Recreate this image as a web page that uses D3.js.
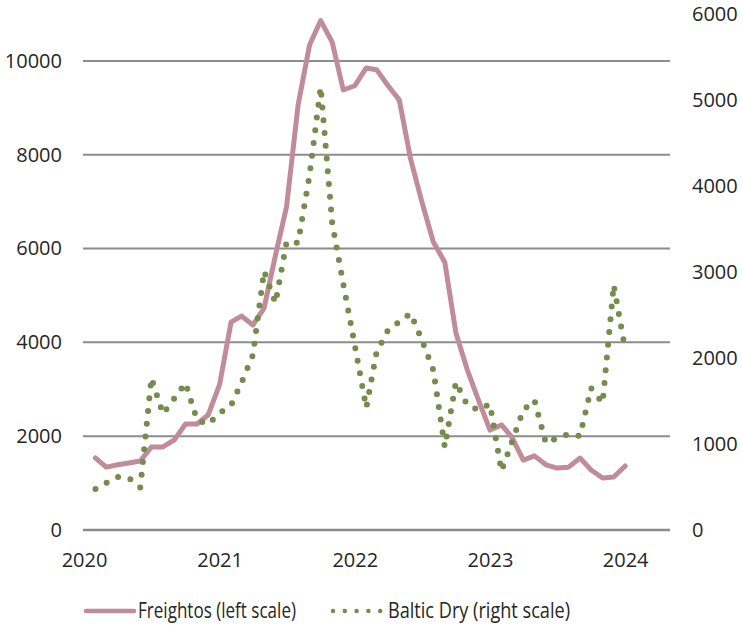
<!DOCTYPE html>
<html>
<head>
<meta charset="utf-8">
<script src="https://cdn.jsdelivr.net/npm/d3@7"></script>
<style>
  html, body { margin: 0; padding: 0; background: #ffffff; }
  svg { display: block; }
  text { font-family: "Open Sans", "Noto Sans", sans-serif; fill: #262626; }
</style>
</head>
<body>
<svg id="chart" width="742" height="630"></svg>
<script>
// Monthly observations, Jan 2020 – Dec 2023, each plotted at its month end
const monthEnds = d3.timeMonth.range(new Date(2020, 1, 1), new Date(2024, 1, 1));

// Freightos container index (left scale)
const freightos = [
  1535, 1340, 1390, 1430, 1470, 1770, 1770, 1920, 2260, 2260, 2450, 3100,
  4430, 4560, 4370, 4730, 5860, 6900, 9060, 10340, 10860, 10400, 9380, 9470,
  9850, 9810, 9470, 9170, 7900, 7000, 6140, 5710, 4200, 3410, 2770, 2130,
  2240, 1980, 1490, 1580, 1390, 1320, 1340, 1535, 1280, 1110, 1130, 1365
];

// Baltic Dry index (right scale)
const balticDry = [
  477, 547, 616, 605, 495, 1767, 1350, 1530, 1710, 1280, 1230, 1360,
  1450, 1710, 2035, 3010, 2640, 3350, 3340, 4130, 5150, 3570, 2860, 2150,
  1420, 2070, 2325, 2420, 2520, 2210, 1860, 965, 1720, 1450, 1395, 1465,
  686, 1020, 1395, 1510, 1010, 1070, 1115, 1093, 1650, 1477, 2850, 2100
];

const leftTicks = [0, 2000, 4000, 6000, 8000, 10000];
const rightTicks = [0, 1000, 2000, 3000, 4000, 5000, 6000];
const yearTicks = [2020, 2021, 2022, 2023, 2024];
const seriesNames = ["Freightos (left scale)", "Baltic Dry (right scale)"];

const colorFreightos = "#C08C9A";
const colorBaltic = "#748C4C";
const gridColor = "#8C8C8C";

const svg = d3.select("#chart");

const x = d3.scaleTime()
  .domain([new Date(2020, 0, 1), new Date(2024, 4, 1)])
  .range([84, 670]);
const yLeft = d3.scaleLinear().domain([0, 11000]).range([530, 14]);
const yRight = d3.scaleLinear().domain([0, 6000]).range([530, 14]);

// Horizontal gridlines on the left scale
svg.append("g")
  .selectAll("line")
  .data(leftTicks.filter(d => d > 0))
  .join("line")
  .attr("x1", 83).attr("x2", 670)
  .attr("y1", d => yLeft(d)).attr("y2", d => yLeft(d))
  .attr("stroke", gridColor)
  .attr("stroke-width", 2);

// Baseline
svg.append("line")
  .attr("x1", 83).attr("x2", 670)
  .attr("y1", yLeft(0)).attr("y2", yLeft(0))
  .attr("stroke", "#8A8A8A")
  .attr("stroke-width", 2.6);

const styleLabels = g => g.selectAll("text")
  .attr("font-size", 20).attr("fill", "#262626")
  .attr("font-family", "'Open Sans', sans-serif");

// Left axis labels
const leftAxis = d3.axisLeft(yLeft).tickValues(leftTicks).tickSize(0).tickPadding(0)
  .tickFormat(d3.format("d"));
svg.append("g")
  .attr("transform", "translate(62,0)")
  .call(leftAxis)
  .call(g => g.select(".domain").remove())
  .call(styleLabels);

// Right axis labels
const rightAxis = d3.axisRight(yRight).tickValues(rightTicks).tickSize(0).tickPadding(0)
  .tickFormat(d3.format("d"));
svg.append("g")
  .attr("transform", "translate(692,0)")
  .call(rightAxis)
  .call(g => g.select(".domain").remove())
  .call(styleLabels);

// Year labels along the bottom
const bottomAxis = d3.axisBottom(x)
  .tickValues(yearTicks.map(yr => new Date(yr, 0, 1)))
  .tickSize(0).tickPadding(0)
  .tickFormat(d3.timeFormat("%Y"));
svg.append("g")
  .attr("transform", "translate(0,553)")
  .call(bottomAxis)
  .call(g => g.select(".domain").remove())
  .call(styleLabels);

// Freightos line
const lineLeft = d3.line()
  .x((d, i) => x(monthEnds[i]))
  .y(d => yLeft(d));
svg.append("path")
  .datum(freightos)
  .attr("d", lineLeft)
  .attr("fill", "none")
  .attr("stroke", colorFreightos)
  .attr("stroke-width", 5)
  .attr("stroke-linejoin", "round")
  .attr("stroke-linecap", "round");

// Baltic Dry dotted line
const lineRight = d3.line()
  .x((d, i) => x(monthEnds[i]))
  .y(d => yRight(d));
svg.append("path")
  .datum(balticDry)
  .attr("d", lineRight)
  .attr("fill", "none")
  .attr("stroke", colorBaltic)
  .attr("stroke-width", 6)
  .attr("stroke-dasharray", "0 12.8")
  .attr("stroke-linecap", "round")
  .attr("stroke-linejoin", "round");

// Legend
const legend = svg.append("g");
legend.append("line")
  .attr("x1", 86).attr("x2", 134).attr("y1", 611).attr("y2", 611)
  .attr("stroke", colorFreightos).attr("stroke-width", 4.5)
  .attr("stroke-linecap", "round");
legend.append("text")
  .attr("x", 138).attr("y", 618)
  .attr("font-size", 21)
  .attr("textLength", 158).attr("lengthAdjust", "spacingAndGlyphs")
  .text(seriesNames[0]);
legend.append("line")
  .attr("x1", 333).attr("x2", 381).attr("y1", 611).attr("y2", 611)
  .attr("stroke", colorBaltic).attr("stroke-width", 4.5)
  .attr("stroke-dasharray", "0 11.8")
  .attr("stroke-linecap", "round");
legend.append("text")
  .attr("x", 388).attr("y", 618)
  .attr("font-size", 21)
  .attr("textLength", 182).attr("lengthAdjust", "spacingAndGlyphs")
  .text(seriesNames[1]);
</script>
</body>
</html>
